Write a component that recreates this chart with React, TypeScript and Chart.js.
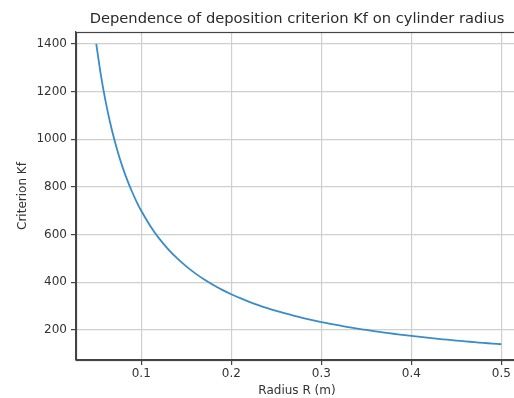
import React, { useEffect, useRef } from "react";
import { Chart, registerables } from "chart.js";

Chart.register(...registerables);

const radius: number[] = [
  0.05, 0.055, 0.06, 0.065, 0.07, 0.075, 0.08, 0.085, 0.09, 0.095, 0.1,
  0.11, 0.12, 0.13, 0.14, 0.15, 0.16, 0.17, 0.18, 0.19, 0.2,
  0.21, 0.22, 0.23, 0.24, 0.25, 0.26, 0.27, 0.28, 0.29, 0.3,
  0.31, 0.32, 0.33, 0.34, 0.35, 0.36, 0.37, 0.38, 0.39, 0.4,
  0.41, 0.42, 0.43, 0.44, 0.45, 0.46, 0.47, 0.48, 0.49, 0.5,
];
const kf: number[] = [
  1400, 1272.7, 1166.7, 1076.9, 1000, 933.3, 875, 823.5, 777.8, 736.8, 700,
  636.4, 583.3, 538.5, 500, 466.7, 437.5, 411.8, 388.9, 368.4, 350,
  333.3, 318.2, 304.3, 291.7, 280, 269.2, 259.3, 250, 241.4, 233.3,
  225.8, 218.8, 212.1, 205.9, 200, 194.4, 189.2, 184.2, 179.5, 175,
  170.7, 166.7, 162.8, 159.1, 155.6, 152.2, 148.9, 145.8, 142.9, 140,
];
const xTicks: number[] = [0.1, 0.2, 0.3, 0.4, 0.5];
const yTicks: number[] = [200, 400, 600, 800, 1000, 1200, 1400];

const titleText = "Dependence of deposition criterion Kf on cylinder radius";
const xLabel = "Radius R (m)";
const yLabel = "Criterion Kf";

const FONT = "'DejaVu Sans', sans-serif";

const frame = {
  id: "frame",
  afterDraw(chart: any) {
    const { ctx, chartArea } = chart;
    ctx.save();
    ctx.strokeStyle = "#444444";
    ctx.lineWidth = 1.2;
    ctx.strokeRect(
      Math.round(chartArea.left) + 0.5,
      Math.round(chartArea.top) + 0.5,
      Math.round(chartArea.right - chartArea.left),
      Math.round(chartArea.bottom - chartArea.top)
    );
    ctx.restore();
  },
};

export default function App() {
  const ref = useRef<HTMLCanvasElement>(null);
  useEffect(() => {
    if (!ref.current) return;
    const chart = new Chart(ref.current, {
      type: "line",
      data: {
        datasets: [
          {
            data: radius.map((r, i) => ({ x: r, y: kf[i] })),
            borderColor: "#3a8cc8",
            borderWidth: 1.8,
            pointRadius: 0,
            tension: 0.3,
            fill: false,
          },
        ],
      },
      plugins: [frame],
      options: {
        responsive: false,
        animation: false,
        layout: { padding: { left: 0, right: 4, top: 0, bottom: 0 } },
        plugins: {
          legend: { display: false },
          tooltip: { enabled: false },
          title: {
            display: true,
            text: titleText,
            fullSize: false,
            color: "#2a2a2a",
            font: { family: FONT, size: 14.7, weight: "normal" },
            padding: { top: 10, bottom: 4.4 },
          },
        },
        scales: {
          x: {
            type: "linear",
            min: 0.0275,
            max: 0.5185,
            afterBuildTicks: (s: any) => {
              s.ticks = xTicks.map((v) => ({ value: v }));
            },
            afterFit: (s: any) => {
              s.height = 38;
            },
            ticks: {
              color: "#333333",
              font: { family: FONT, size: 12 },
              padding: 2,
              maxRotation: 0,
              autoSkip: false,
              callback: (v: any) => String(v),
            },
            grid: {
              color: "#cfcfcf",
              lineWidth: 1.2,
              tickColor: "#444444",
              tickLength: 5,
            },
            border: { color: "#444444", width: 1.2 },
            title: {
              display: true,
              text: xLabel,
              color: "#333333",
              font: { family: FONT, size: 12 },
              padding: { top: 3, bottom: 0 },
            },
          },
          y: {
            type: "linear",
            min: 74,
            max: 1450,
            afterBuildTicks: (s: any) => {
              s.ticks = yTicks.map((v) => ({ value: v }));
            },
            afterFit: (s: any) => {
              s.width = 76;
            },
            ticks: {
              color: "#333333",
              font: { family: FONT, size: 12 },
              padding: 4,
              autoSkip: false,
              callback: (v: any) => String(v),
            },
            grid: {
              color: "#cfcfcf",
              lineWidth: 1.2,
              tickColor: "#444444",
              tickLength: 5,
            },
            border: { color: "#444444", width: 1.2 },
            title: {
              display: true,
              text: yLabel,
              color: "#333333",
              font: { family: FONT, size: 12 },
              padding: { top: 16, bottom: 0 },
            },
          },
        },
      },
    });
    return () => chart.destroy();
  }, []);
  return (
    <div
      style={{
        position: "fixed",
        left: 0,
        top: 0,
        width: 514,
        height: 398,
        overflow: "hidden",
        background: "#ffffff",
      }}
    >
      <canvas ref={ref} width={522} height={398} style={{ display: "block" }} />
    </div>
  );
}
